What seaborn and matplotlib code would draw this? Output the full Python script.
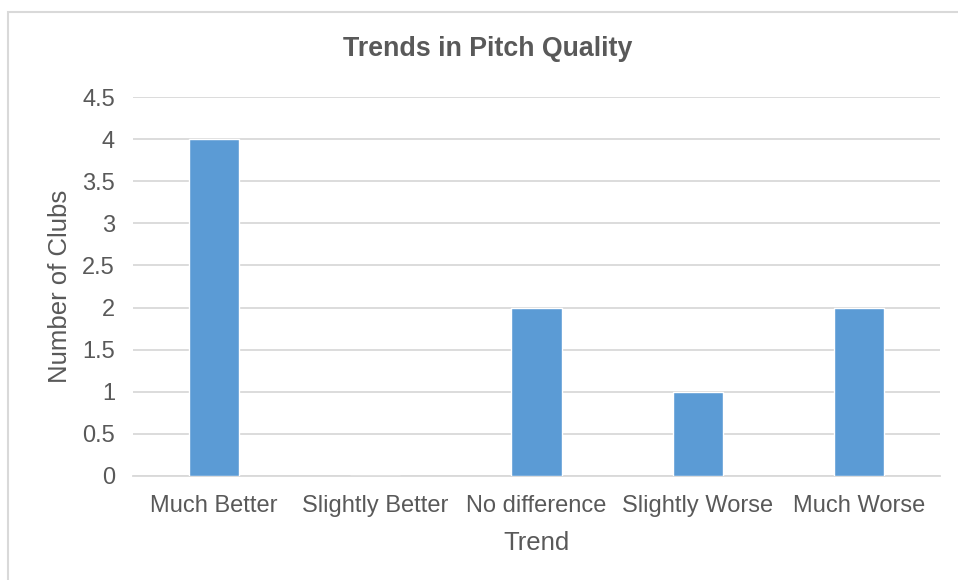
import matplotlib
matplotlib.use('Agg')
import matplotlib.pyplot as plt
import seaborn as sns
import pandas as pd
from matplotlib.patches import Rectangle

# Chart data
trends = ['Much Better', 'Slightly Better', 'No difference', 'Slightly Worse', 'Much Worse']
clubs = [4, 0, 2, 1, 2]
y_ticks = [0, 0.5, 1, 1.5, 2, 2.5, 3, 3.5, 4, 4.5]

df = pd.DataFrame({'Trend': trends, 'Clubs': clubs})

sns.set_style('white')
plt.rcParams['font.family'] = ['Liberation Sans', 'DejaVu Sans']
text_color = '#595959'
grid_color = '#D9D9D9'

fig = plt.figure(figsize=(9.58, 5.8), dpi=100)
ax = fig.add_axes([133 / 958, 1 - 476 / 580, 807 / 958, 379 / 580])

sns.barplot(data=df, x='Trend', y='Clubs', color='#5B9BD5', width=0.31,
            saturation=1, ax=ax, zorder=3)

ax.set_ylim(0, 4.5)
ax.set_yticks(y_ticks)
ax.set_yticklabels([f'{t:g}' for t in y_ticks])
ax.yaxis.grid(True, color=grid_color, linewidth=1.3, zorder=0)
ax.set_axisbelow(True)
for side in ['top', 'right', 'left']:
    ax.spines[side].set_visible(False)
ax.spines['bottom'].set_color(grid_color)
ax.spines['bottom'].set_linewidth(1.3)
ax.tick_params(axis='both', length=0, labelsize=17, colors=text_color)
ax.tick_params(axis='y', pad=13)
ax.tick_params(axis='x', pad=14)

ax.set_xlabel('Trend', fontsize=18.5, color=text_color, labelpad=9.5)
ax.set_ylabel('Number of Clubs', fontsize=18.5, color=text_color, labelpad=7.5)
fig.text(488 / 958, 1 - 49 / 580, 'Trends in Pitch Quality', ha='center', va='center',
         fontsize=19.3, fontweight='bold', color=text_color)

# chart border
fig.patches.append(Rectangle((8 / 958, -0.1), 2, 1 - 12 / 580 + 0.1,
                             transform=fig.transFigure, fill=False,
                             edgecolor=grid_color, linewidth=1.5))

fig.savefig('out.png', dpi=100)
